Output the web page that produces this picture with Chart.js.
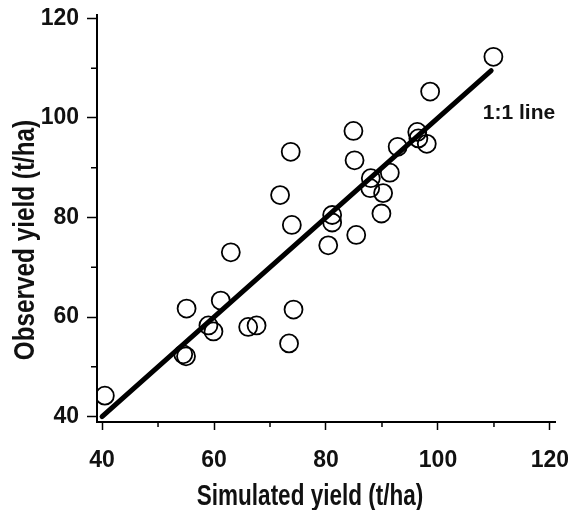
<!DOCTYPE html>
<html>
<head>
<meta charset="utf-8">
<script src="https://cdn.jsdelivr.net/npm/chart.js@4.4.0/dist/chart.umd.min.js"></script>
<style>
  html, body { margin: 0; padding: 0; background: #fff; }
  canvas { display: block; }
</style>
</head>
<body>
<canvas id="grafico" width="568" height="510"></canvas>
<script>
// datos (t/ha)
const simulado = [40.5, 54.5, 55.0, 55.1, 61.2, 59.0, 59.9, 66.1, 67.6, 74.2, 73.4, 63.0,
                  98.6, 84.9, 73.7, 85.1, 96.3, 96.5, 98.0, 92.8, 91.4, 88.0, 87.9, 90.2,
                  89.9, 71.8, 73.9, 81.1, 81.1, 80.4, 85.4, 109.9];
const observado = [44.2, 52.5, 52.1, 61.7, 63.3, 58.3, 57.1, 58.0, 58.3, 61.5, 54.7, 73.0,
                   105.3, 97.4, 93.2, 91.5, 97.2, 95.9, 94.8, 94.2, 89.0, 87.9, 85.9, 84.9,
                   80.8, 84.5, 78.5, 80.5, 79.0, 74.4, 76.5, 112.3];
// linea 1:1
const lineaX = [40, 109.5];
const lineaY = [40, 109.5];

const ticksX = [40, 60, 80, 100, 120];
const ticksY = [40, 60, 80, 100, 120];
const menoresX = [50, 70, 90, 110];
const menoresY = [50, 70, 90, 110];

const tituloX = "Simulated yield (t/ha)";
const tituloY = "Observed yield (t/ha)";
const etiquetaLinea = "1:1 line";

const fuente = '"Liberation Sans", Arial, sans-serif';
const negro = "#111";

// ticks menores, titulos de ejes y etiqueta de la linea
const extras = {
    id: "extras",
    afterDraw(chart) {
        const ctx = chart.ctx;
        const sx = chart.scales.x;
        const sy = chart.scales.y;
        const area = chart.chartArea;
        ctx.save();
        ctx.strokeStyle = "#000";
        ctx.lineWidth = 1.5;
        menoresX.forEach(v => {
            const px = sx.getPixelForValue(v);
            ctx.beginPath();
            ctx.moveTo(px, sx.top);
            ctx.lineTo(px, sx.top + 5);
            ctx.stroke();
        });
        menoresY.forEach(v => {
            const py = sy.getPixelForValue(v);
            ctx.beginPath();
            ctx.moveTo(sy.right, py);
            ctx.lineTo(sy.right - 6, py);
            ctx.stroke();
        });

        ctx.fillStyle = negro;
        ctx.font = "bold 21px " + fuente;
        ctx.textAlign = "left";
        ctx.textBaseline = "middle";
        ctx.fillText(etiquetaLinea, sx.getPixelForValue(108), sy.getPixelForValue(101));

        // titulos (letra estrecha)
        ctx.font = "bold 30px " + fuente;
        ctx.textAlign = "center";
        ctx.textBaseline = "alphabetic";
        ctx.save();
        ctx.translate(area.left + 213, area.bottom + 83);
        ctx.scale(0.75, 1);
        ctx.fillText(tituloX, 0, 0);
        ctx.restore();

        ctx.save();
        ctx.translate(34, area.top + 225);
        ctx.rotate(-Math.PI / 2);
        ctx.scale(0.81, 1);
        ctx.fillText(tituloY, 0, 0);
        ctx.restore();

        ctx.restore();
    }
};

const puntos = simulado.map((x, i) => ({ x: x, y: observado[i] }));
const linea = lineaX.map((x, i) => ({ x: x, y: lineaY[i] }));

new Chart(document.getElementById("grafico"), {
    type: "scatter",
    data: {
        datasets: [{
            type: "line",
            data: linea,
            borderColor: "#000",
            borderWidth: 5,
            borderCapStyle: "round",
            pointRadius: 0,
            fill: false
        }, {
            data: puntos,
            pointRadius: 9,
            pointHoverRadius: 9,
            pointBorderWidth: 1.8,
            pointBackgroundColor: "rgba(0,0,0,0)",
            pointBorderColor: "#000"
        }]
    },
    options: {
        responsive: false,
        animation: false,
        devicePixelRatio: 1,
        layout: { padding: { top: 15, right: 13, left: 0, bottom: 0 } },
        plugins: { legend: { display: false }, tooltip: { enabled: false } },
        scales: {
            x: {
                type: "linear",
                min: 39.1,
                max: 120.9,
                afterBuildTicks: s => { s.ticks = ticksX.map(v => ({ value: v })); },
                afterFit: s => { s.height = 88; s.paddingLeft = 0; s.paddingRight = 0; },
                grid: { drawOnChartArea: false, tickLength: 8, tickWidth: 1.5, tickColor: "#000" },
                border: { display: true, color: "#000", width: 2 },
                ticks: { color: negro, font: { family: fuente, size: 23, weight: "bold" }, padding: 17, maxRotation: 0 }
            },
            y: {
                type: "linear",
                min: 38.9,
                max: 120.7,
                afterBuildTicks: s => { s.ticks = ticksY.map(v => ({ value: v })); },
                afterFit: s => { s.width = 97; s.paddingTop = 0; s.paddingBottom = 0; },
                grid: { drawOnChartArea: false, tickLength: 10, tickWidth: 1.5, tickColor: "#000" },
                border: { display: true, color: "#000", width: 2 },
                ticks: { color: negro, font: { family: fuente, size: 23, weight: "bold" }, padding: 8 }
            }
        }
    },
    plugins: [extras]
});
</script>
</body>
</html>
